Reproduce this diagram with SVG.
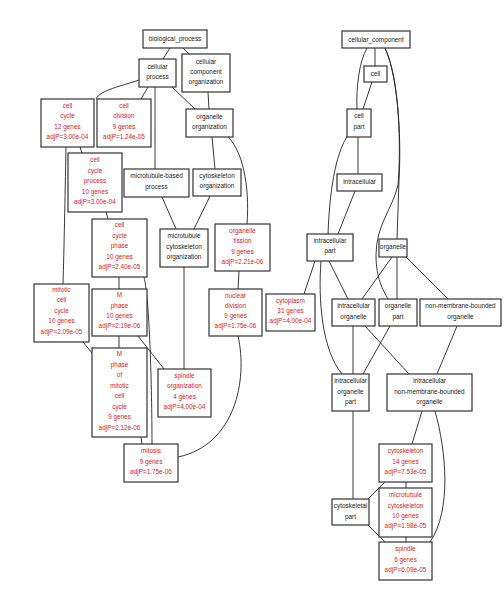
<svg xmlns="http://www.w3.org/2000/svg" width="504" height="593" viewBox="0 0 504 593">
<style>
.b{fill:#fff;stroke:#333;stroke-width:1.2}
.e{fill:none;stroke:#222;stroke-width:0.9}
text{font-family:"Liberation Sans",Arial,sans-serif;font-size:6.4px;text-anchor:middle}
.k{fill:#222}
.r{fill:#e0201c}
</style>
<rect width="504" height="593" fill="#fff"/>
<g id="connectors">
<path class="e" d="M170,48 L163,59"/>
<path class="e" d="M183,48 L189,54"/>
<path class="e" d="M139,80 C122,86 100,90 96,99"/>
<path class="e" d="M148,87 L141,99"/>
<path class="e" d="M172,87 L195,109"/>
<path class="e" d="M155,87 L155,169"/>
<path class="e" d="M208,92 L209,109"/>
<path class="e" d="M212,137 L215,169"/>
<path class="e" d="M228,137 C242,150 250,185 247,224"/>
<path class="e" d="M80,147 L82,153"/>
<path class="e" d="M66,147 C65,200 64,250 63,284"/>
<path class="e" d="M106,212 L108,219"/>
<path class="e" d="M162,197 L176,229"/>
<path class="e" d="M210,196 L194,229"/>
<path class="e" d="M184,267 L184,369"/>
<path class="e" d="M119,277 L119,289"/>
<path class="e" d="M144,277 C150,300 152,400 152,444"/>
<path class="e" d="M119,336 L119,348"/>
<path class="e" d="M138,336 L164,369"/>
<path class="e" d="M83,342 L92,353"/>
<path class="e" d="M141,437 L142,444"/>
<path class="e" d="M239,271 L238,289"/>
<path class="e" d="M238,336 C248,380 235,445 178,457"/>
<path class="e" d="M375,48 L375,66"/>
<path class="e" d="M367,48 C359,62 356,88 357,109"/>
<path class="e" d="M372,82 L363,109"/>
<path class="e" d="M385,48 C400,80 401,150 399,180 L397,239"/>
<path class="e" d="M385,48 C400,80 401,150 398,185 C392,210 376,225 376,255 C376,278 383,290 388,299"/>
<path class="e" d="M348,135 C338,150 330,180 328,234"/>
<path class="e" d="M358,137 L358,174"/>
<path class="e" d="M355,191 L338,234"/>
<path class="e" d="M315,261 L304,294"/>
<path class="e" d="M329,261 L348,299"/>
<path class="e" d="M321,261 C318,300 322,350 342,374"/>
<path class="e" d="M392,257 L362,299"/>
<path class="e" d="M397,257 L397,299"/>
<path class="e" d="M406,257 L448,299"/>
<path class="e" d="M353,326 L353,374"/>
<path class="e" d="M365,326 L409,374"/>
<path class="e" d="M390,326 L363,374"/>
<path class="e" d="M457,326 L437,374"/>
<path class="e" d="M353,411 L353,499"/>
<path class="e" d="M422,411 L412,444"/>
<path class="e" d="M435,411 C446,450 452,510 430,542"/>
<path class="e" d="M406,482 L406,488"/>
<path class="e" d="M385,482 L368,499"/>
<path class="e" d="M406,537 L406,542"/>
<path class="e" d="M368,525 L385,542"/>
</g>
<g id="n_biological_process"><rect class="b" x="143" y="30" width="64" height="18"/><text class="k" x="175" y="41.2">biological_process</text></g>
<g id="n_cellular_process"><rect class="b" x="139" y="59" width="37" height="28"/><text class="k" x="157.5" y="69.2">cellular</text><text class="k" x="157.5" y="79.2">process</text></g>
<g id="n_cellular_component_organization"><rect class="b" x="182" y="54" width="48" height="38"/><text class="k" x="206" y="64.2">cellular</text><text class="k" x="206" y="74.2">component</text><text class="k" x="206" y="84.2">organization</text></g>
<g id="n_organelle_organization"><rect class="b" x="186" y="109" width="47" height="28"/><text class="k" x="209.5" y="119.2">organelle</text><text class="k" x="209.5" y="129.2">organization</text></g>
<g id="n_cell_cycle"><rect class="b" x="41" y="99" width="53" height="48"/><text class="r" x="67.5" y="107.7">cell</text><text class="r" x="67.5" y="118.2">cycle</text><text class="r" x="67.5" y="128.7">12 genes</text><text class="r" x="67.5" y="139.2">adjP=3.00e-04</text></g>
<g id="n_cell_division"><rect class="b" x="97" y="99" width="54" height="48"/><text class="r" x="124" y="107.7">cell</text><text class="r" x="124" y="118.2">division</text><text class="r" x="124" y="128.7">9 genes</text><text class="r" x="124" y="139.2">adjP=1.24e-05</text></g>
<g id="n_cell_cycle_process"><rect class="b" x="68" y="153" width="54" height="59"/><text class="r" x="95" y="162.2">cell</text><text class="r" x="95" y="172.7">cycle</text><text class="r" x="95" y="183.2">process</text><text class="r" x="95" y="193.7">10 genes</text><text class="r" x="95" y="204.2">adjP=3.00e-04</text></g>
<g id="n_microtubule_based_process"><rect class="b" x="124" y="169" width="65" height="28"/><text class="k" x="156.5" y="178.2">microtubule-based</text><text class="k" x="156.5" y="188.7">process</text></g>
<g id="n_cytoskeleton_organization"><rect class="b" x="193" y="169" width="48" height="27"/><text class="k" x="217" y="177.7">cytoskeleton</text><text class="k" x="217" y="188.2">organization</text></g>
<g id="n_cell_cycle_phase"><rect class="b" x="92" y="219" width="55" height="58"/><text class="r" x="119.5" y="227.2">cell</text><text class="r" x="119.5" y="237.7">cycle</text><text class="r" x="119.5" y="248.2">phase</text><text class="r" x="119.5" y="258.7">10 genes</text><text class="r" x="119.5" y="269.2">adjP=2.40e-05</text></g>
<g id="n_microtubule_cytoskeleton_organization"><rect class="b" x="160" y="229" width="48" height="38"/><text class="k" x="184" y="238.2">microtubule</text><text class="k" x="184" y="248.7">cytoskeleton</text><text class="k" x="184" y="259.2">organization</text></g>
<g id="n_organelle_fission"><rect class="b" x="215" y="224" width="55" height="47"/><text class="r" x="242.5" y="233.2">organelle</text><text class="r" x="242.5" y="243.2">fission</text><text class="r" x="242.5" y="253.7">9 genes</text><text class="r" x="242.5" y="263.7">adjP=2.21e-06</text></g>
<g id="n_mitotic_cell_cycle"><rect class="b" x="34" y="284" width="55" height="58"/><text class="r" x="61.5" y="291.7">mitotic</text><text class="r" x="61.5" y="302.2">cell</text><text class="r" x="61.5" y="312.7">cycle</text><text class="r" x="61.5" y="323.2">10 genes</text><text class="r" x="61.5" y="333.7">adjP=2.09e-05</text></g>
<g id="n_M_phase"><rect class="b" x="92" y="289" width="55" height="47"/><text class="r" x="119.5" y="297.2">M</text><text class="r" x="119.5" y="307.7">phase</text><text class="r" x="119.5" y="318.2">10 genes</text><text class="r" x="119.5" y="328.2">adjP=2.19e-06</text></g>
<g id="n_M_phase_of_mitotic_cell_cycle"><rect class="b" x="92" y="348" width="55" height="89"/><text class="r" x="119.5" y="356.2">M</text><text class="r" x="119.5" y="366.7">phase</text><text class="r" x="119.5" y="377.2">of</text><text class="r" x="119.5" y="387.7">mitotic</text><text class="r" x="119.5" y="398.2">cell</text><text class="r" x="119.5" y="408.7">cycle</text><text class="r" x="119.5" y="419.2">9 genes</text><text class="r" x="119.5" y="429.7">adjP=2.12e-06</text></g>
<g id="n_nuclear_division"><rect class="b" x="209" y="289" width="53" height="47"/><text class="r" x="235.5" y="298.2">nuclear</text><text class="r" x="235.5" y="308.2">division</text><text class="r" x="235.5" y="318.2">9 genes</text><text class="r" x="235.5" y="328.2">adjP=1.75e-06</text></g>
<g id="n_cytoplasm"><rect class="b" x="266" y="294" width="49" height="37"/><text class="r" x="290.5" y="303.2">cytoplasm</text><text class="r" x="290.5" y="313.2">31 genes</text><text class="r" x="290.5" y="323.2">adjP=4.00e-04</text></g>
<g id="n_spindle_organization"><rect class="b" x="158" y="369" width="53" height="48"/><text class="r" x="184.5" y="378.2">spindle</text><text class="r" x="184.5" y="388.2">organization</text><text class="r" x="184.5" y="398.7">4 genes</text><text class="r" x="184.5" y="409.2">adjP=4.00e-04</text></g>
<g id="n_mitosis"><rect class="b" x="124" y="444" width="54" height="38"/><text class="r" x="151" y="453.2">mitosis</text><text class="r" x="151" y="463.7">9 genes</text><text class="r" x="151" y="474.2">adjP=1.75e-06</text></g>
<g id="n_cellular_component"><rect class="b" x="342" y="31" width="68" height="17"/><text class="k" x="376" y="41.7">cellular_component</text></g>
<g id="n_cell"><rect class="b" x="364" y="66" width="23" height="16"/><text class="k" x="375.5" y="76.2">cell</text></g>
<g id="n_cell_part"><rect class="b" x="347" y="109" width="24" height="28"/><text class="k" x="359" y="118.2">cell</text><text class="k" x="359" y="129.2">part</text></g>
<g id="n_intracellular"><rect class="b" x="337" y="174" width="45" height="17"/><text class="k" x="359.5" y="184.2">intracellular</text></g>
<g id="n_intracellular_part"><rect class="b" x="307" y="234" width="46" height="27"/><text class="k" x="330" y="242.7">intracellular</text><text class="k" x="330" y="253.2">part</text></g>
<g id="n_organelle"><rect class="b" x="379" y="239" width="28" height="18"/><text class="k" x="393" y="249.2">organelle</text></g>
<g id="n_intracellular_organelle"><rect class="b" x="332" y="299" width="43" height="27"/><text class="k" x="353.5" y="308.2">intracellular</text><text class="k" x="353.5" y="318.7">organelle</text></g>
<g id="n_organelle_part"><rect class="b" x="379" y="299" width="38" height="27"/><text class="k" x="398" y="308.2">organelle</text><text class="k" x="398" y="318.7">part</text></g>
<g id="n_non_membrane_bounded_organelle"><rect class="b" x="420" y="299" width="81" height="27"/><text class="k" x="460.5" y="308.2">non-membrane-bounded</text><text class="k" x="460.5" y="318.7">organelle</text></g>
<g id="n_intracellular_organelle_part"><rect class="b" x="332" y="374" width="37" height="37"/><text class="k" x="350.5" y="383.2">intracellular</text><text class="k" x="350.5" y="393.7">organelle</text><text class="k" x="350.5" y="404.2">part</text></g>
<g id="n_intracellular_nmbo"><rect class="b" x="387" y="374" width="85" height="37"/><text class="k" x="429.5" y="383.2">intracellular</text><text class="k" x="429.5" y="393.7">non-membrane-bounded</text><text class="k" x="429.5" y="404.2">organelle</text></g>
<g id="n_cytoskeleton"><rect class="b" x="379" y="444" width="53" height="38"/><text class="r" x="405.5" y="453.2">cytoskeleton</text><text class="r" x="405.5" y="463.7">14 genes</text><text class="r" x="405.5" y="474.2">adjP=7.53e-05</text></g>
<g id="n_microtubule_cytoskeleton"><rect class="b" x="379" y="488" width="53" height="49"/><text class="r" x="405.5" y="497.2">microtubule</text><text class="r" x="405.5" y="507.7">cytoskeleton</text><text class="r" x="405.5" y="518.2">10 genes</text><text class="r" x="405.5" y="528.2">adjP=1.98e-05</text></g>
<g id="n_cytoskeletal_part"><rect class="b" x="332" y="499" width="37" height="26"/><text class="k" x="350.5" y="508.2">cytoskeletal</text><text class="k" x="350.5" y="518.7">part</text></g>
<g id="n_spindle"><rect class="b" x="379" y="542" width="53" height="38"/><text class="r" x="405.5" y="551.2">spindle</text><text class="r" x="405.5" y="561.7">6 genes</text><text class="r" x="405.5" y="572.2">adjP=6.09e-05</text></g>
</svg>
